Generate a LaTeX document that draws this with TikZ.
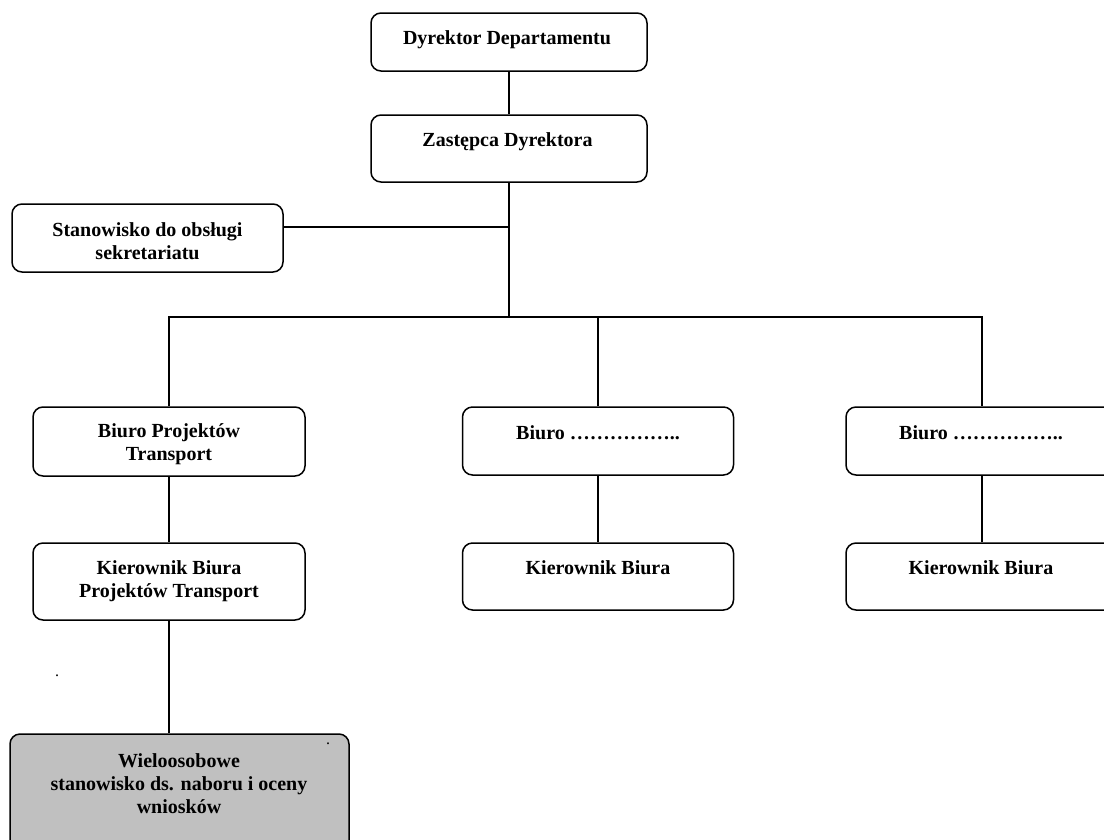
\documentclass[tikz,border=0pt]{standalone}
\usepackage{fontspec}
\setmainfont{Liberation Serif}
\definecolor{boxgray}{RGB}{192,192,192}
\begin{document}
\begin{tikzpicture}[x=1pt,y=-1pt,
  unit/.style={draw=black, line width=1.5pt, rounded corners=10pt, inner sep=0pt},
  ttl/.style={font=\fontsize{20}{23}\selectfont\bfseries, align=center, inner sep=0pt, anchor=north},
  wire/.style={draw=black, line width=1.5pt},
  speck/.style={font=\fontsize{16}{18}\selectfont, inner sep=0pt}]
\useasboundingbox (0,0) rectangle (1104,839);
\clip (0,0) rectangle (1104,839);

% boxes
\node[unit, minimum width=276pt, minimum height=58pt] (dd) at (509,42) {};
\node[unit, minimum width=276pt, minimum height=67pt] (zd) at (509,148.5) {};
\node[unit, minimum width=271pt, minimum height=68pt] (ss) at (147.5,238) {};
\node[unit, minimum width=272pt, minimum height=69pt] (bp) at (169,441.5) {};
\node[unit, minimum width=272pt, minimum height=77pt] (kbp) at (169,581.5) {};
\node[unit, minimum width=271pt, minimum height=68pt] (b2) at (598,441) {};
\node[unit, minimum width=271pt, minimum height=67pt] (kb2) at (598,576.5) {};
\node[unit, minimum width=272pt, minimum height=68pt] (b3) at (982,441) {};
\node[unit, minimum width=272pt, minimum height=67pt] (kb3) at (982,576.5) {};
\node[unit, fill=boxgray, minimum width=339pt, minimum height=130pt] (wo) at (179.5,799) {};

% box texts
\node[ttl] (ddt) at (507,27.9) {\strut Dyrektor Departamentu};
\node[ttl] (zdt) at (507.5,130.6) {\strut Zastępca Dyrektora};
\node[ttl] (sst) at (147.5,219.9) {\strut Stanowisko do obsługi\\sekretariatu};
\node[ttl] (bpt) at (169,420.9) {\strut Biuro Projektów\\Transport};
\node[ttl] (kbpt) at (169,557.9) {\strut Kierownik Biura\\Projektów Transport};
\node[ttl] (b2t) at (598,422.9) {\strut Biuro ……………..};
\node[ttl] (kb2t) at (598,557.9) {\strut Kierownik Biura};
\node[ttl] (b3t) at (981,422.9) {\strut Biuro ……………..};
\node[ttl] (kb3t) at (981,557.9) {\strut Kierownik Biura};
\node[ttl] (wot) at (179,751.4) {\strut Wieloosobowe\\stanowisko ds. naboru i oceny\\wniosków};

% stray dots
\node[speck] (d1) at (57,676) {.};
\node[speck] (d2) at (328,744) {.};

% connectors
\coordinate (hub) at (509,317);
\coordinate (ssj) at (509,227);
\draw[wire] (dd.south) -- (zd.north);
\draw[wire] (zd.south) -- (hub);
\draw[wire] (ss.east |- ssj) -- (ssj);
\draw[wire] (bp.north) |- (hub) -| (b3.north);
\draw[wire] (b2.north) -- (b2.north |- hub);
\draw[wire] (bp.south) -- (kbp.north);
\draw[wire] (b2.south) -- (kb2.north);
\draw[wire] (b3.south) -- (kb3.north);
\draw[wire] (kbp.south) -- (kbp.south |- wo.north);
\end{tikzpicture}
\end{document}
